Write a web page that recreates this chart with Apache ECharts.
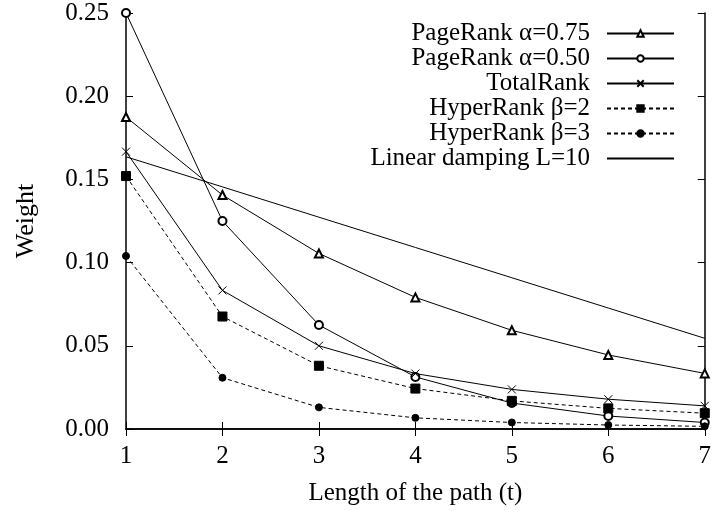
<!DOCTYPE html>
<html>
<head>
<meta charset="utf-8">
<script src="https://cdn.jsdelivr.net/npm/echarts@6/dist/echarts.min.js"></script>
<style>html,body{margin:0;padding:0;background:#fff}#c{width:714px;height:511px}</style>
</head>
<body>
<div id="c"></div>
<script>
const pathLength = [1, 2, 3, 4, 5, 6, 7];
const xTicks = [1, 2, 3, 4, 5, 6, 7];
const yTicks = ['0.00', '0.05', '0.10', '0.15', '0.20', '0.25'];
const pageRank075 = [0.1875, 0.1406, 0.1055, 0.0791, 0.0593, 0.0445, 0.0334];
const pageRank050 = [0.25, 0.125, 0.0625, 0.0313, 0.0156, 0.0078, 0.0039];
const totalRank = [0.1667, 0.0833, 0.05, 0.0333, 0.0238, 0.0179, 0.0139];
const hyperRank2 = [0.152, 0.0676, 0.038, 0.0243, 0.0169, 0.0124, 0.0095];
const hyperRank3 = [0.104, 0.0308, 0.013, 0.0067, 0.0039, 0.0024, 0.0016];
const linearDamping = [0.1636, 0.1455, 0.1273, 0.1091, 0.0909, 0.0727, 0.0545];
const seriesNames = ['PageRank α=0.75', 'PageRank α=0.50', 'TotalRank', 'HyperRank β=2', 'HyperRank β=3', 'Linear damping L=10'];

const FONT = "'Liberation Serif', 'DejaVu Serif', serif";
const FS = 25;
const pairs = arr => pathLength.map((t, i) => [t, arr[i]]);

const styles = [
  {symbol: 'emptyTriangle', symbolSize: 8, dash: 'solid'},
  {symbol: 'emptyCircle', symbolSize: 8, dash: 'solid'},
  {symbol: 'path://M0,0L10,10M10,0L0,10', symbolSize: 8, dash: 'solid'},
  {symbol: 'rect', symbolSize: 9, dash: [4, 3]},
  {symbol: 'circle', symbolSize: 7, dash: [4, 3]},
  {symbol: 'none', symbolSize: 0, dash: 'solid'}
];
const datasets = [pageRank075, pageRank050, totalRank, hyperRank2, hyperRank3, linearDamping];

const series = datasets.map((d, i) => ({
  name: seriesNames[i],
  type: 'line',
  data: pairs(d),
  symbol: styles[i].symbol,
  symbolSize: styles[i].symbolSize,
  showSymbol: styles[i].symbol !== 'none',
  animation: false,
  z: 3,
  lineStyle: {color: '#000', width: 1, type: styles[i].dash},
  itemStyle: {color: '#000', borderColor: '#000', borderWidth: 1}
}));

const axisCommon = {
  axisLine: {show: true, lineStyle: {color: '#000', width: 1.5}},
  axisTick: {show: true, inside: true, length: 7, lineStyle: {color: '#000', width: 1}},
  splitLine: {show: false}
};

const chart = echarts.init(document.getElementById('c'), null, {renderer: 'canvas'});
chart.setOption({
  backgroundColor: '#fff',
  animation: false,
  textStyle: {fontFamily: FONT, color: '#000'},
  grid: {left: 126, right: 9, top: 13, bottom: 80, containLabel: false},
  legend: {
    orient: 'vertical',
    right: 34,
    top: 16,
    align: 'right',
    itemWidth: 67,
    itemHeight: 8,
    itemGap: 0,
    textStyle: {fontFamily: FONT, fontSize: FS, color: '#000', lineHeight: 25, padding: [0, 12, 0, 0]},
    data: seriesNames.map((n, i) => i === 5 ? {name: n, itemStyle: {opacity: 0}} : {name: n})
  },
  xAxis: [
    Object.assign({
      type: 'value', min: xTicks[0], max: xTicks[xTicks.length - 1], interval: 1, position: 'bottom',
      name: 'Length of the path (t)', nameLocation: 'middle', nameGap: 52,
      nameTextStyle: {fontFamily: FONT, fontSize: FS, color: '#000'},
      axisLabel: {fontFamily: FONT, fontSize: FS, color: '#000', margin: 15}
    }, axisCommon),
    Object.assign({
      type: 'value', min: xTicks[0], max: xTicks[xTicks.length - 1], interval: 1, position: 'top',
      axisLabel: {show: false}
    }, axisCommon)
  ],
  yAxis: [
    Object.assign({
      type: 'value', min: 0, max: 0.25, interval: 0.05, position: 'left',
      name: 'Weight', nameLocation: 'middle', nameGap: 87, nameRotate: 90,
      nameTextStyle: {fontFamily: FONT, fontSize: 26, color: '#000'},
      axisLabel: {fontFamily: FONT, fontSize: FS, color: '#000', margin: 17,
        formatter: v => yTicks[Math.round(v / 0.05)]}
    }, axisCommon),
    Object.assign({
      type: 'value', min: 0, max: 0.25, interval: 0.05, position: 'right',
      axisLabel: {show: false}
    }, axisCommon)
  ],
  series: series
});
</script>
</body>
</html>
